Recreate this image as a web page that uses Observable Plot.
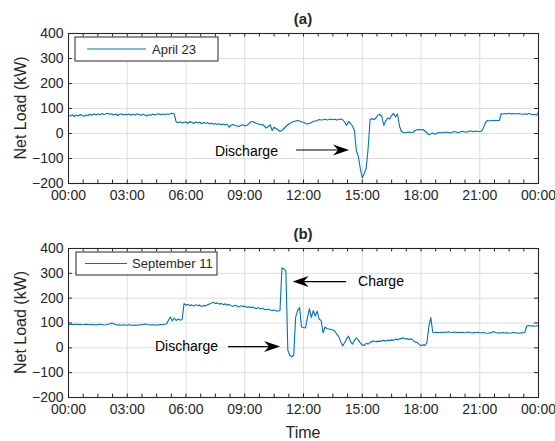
<!DOCTYPE html>
<html><head><meta charset="utf-8">
<script src="https://cdn.jsdelivr.net/npm/d3@7"></script>
<script src="https://cdn.jsdelivr.net/npm/@observablehq/plot@0.6"></script>
<style>
body{margin:0;background:#fff;font-family:"Liberation Sans",Arial,sans-serif;}
#chart{width:555px;height:441px;overflow:hidden;}
#chart svg{display:block;}
</style></head><body><div id="chart"></div>
<script>
// Net load (kW) sampled every 0.1 h from 00:00 to 24:00
const stepHours = 0.1;
const aprilLoad = [
72,70,75,68,74,70,76,72,69,74,
71,77,73,79,74,78,75,80,76,78,
81,77,79,74,78,72,76,79,74,77,
75,78,73,77,74,79,76,72,77,74,
70,75,73,78,74,77,79,75,78,76,
78,76,79,81,78,46,43,47,42,45,
46,41,48,44,40,46,42,45,39,44,
41,43,38,42,37,40,36,39,35,38,
34,37,25,33,36,32,30,28,33,35,
30,32,38,46,48,44,40,38,35,36,
30,22,28,35,12,25,20,15,8,12,
20,28,35,40,45,48,50,52,50,46,
45,40,38,40,44,48,50,52,56,54,
55,57,54,56,58,55,57,54,56,58,
55,45,32,48,40,30,12,-70,-90,-140,
-178,-160,-140,-60,55,60,55,62,74,76,
68,32,50,62,58,72,80,66,78,30,
8,4,3,5,6,4,5,12,15,16,
15,16,10,3,-4,-2,2,-3,0,4,
2,5,3,6,4,2,5,8,6,3,
6,9,7,5,8,10,9,7,10,8,
8,10,25,45,52,50,52,53,51,52,
52,80,78,80,79,81,78,80,79,78,
80,78,77,79,76,80,78,75,77,73,
84];
const septemberLoad = [
96,94,95,93,96,94,95,93,94,95,
94,93,95,92,94,93,95,94,92,93,
95,96,100,97,94,92,93,91,93,92,
91,93,92,90,92,91,93,92,94,96,
94,93,92,94,91,93,92,94,93,95,
96,110,124,108,120,110,116,112,113,178,
172,175,170,173,168,174,170,172,166,171,
169,174,176,180,184,178,181,176,179,174,
177,172,175,170,166,172,168,164,170,166,
168,163,165,162,164,160,158,162,157,159,
155,153,156,152,150,152,149,148,150,322,
318,310,-10,-30,-36,-30,124,150,162,84,
82,80,120,158,122,150,128,148,115,110,
60,84,78,76,74,72,68,55,45,25,
8,20,35,47,25,15,30,40,32,20,
12,10,18,15,22,25,28,24,27,26,
28,30,27,31,29,32,30,35,33,36,
38,40,35,37,34,36,30,23,22,15,
8,12,10,20,85,122,63,62,63,61,
63,62,64,62,65,63,62,64,62,63,
62,63,61,62,64,62,60,62,61,63,
60,61,62,60,59,61,60,66,62,60,
61,60,62,60,61,59,60,62,61,60,
59,61,60,62,88,90,88,89,87,88,
90];

const tickHours = [0,3,6,9,12,15,18,21,24];
const tickLabels = ["00:00","03:00","06:00","09:00","12:00","15:00","18:00","21:00","00:00"];
const yTicks = [-200,-100,0,100,200,300,400];
const minorTickHours = d3.range(0, 24.001, 0.75);

const titles = ["(a)", "(b)"];
const legendLabels = ["April 23", "September 11"];
// annotations: text, text anchor hour, tail hour, tip hour, value (kW)
const annotationsA = [
  {text:"Discharge", side:"left", tx:10.72, ty:-72, x1:11.64, x2:14.35, y:-68}
];
const annotationsB = [
  {text:"Charge", side:"right", tx:14.81, ty:267, x1:14.2, x2:11.47, y:265},
  {text:"Discharge", side:"left", tx:7.66, ty:7, x1:8.17, x2:10.83, y:3}
];

const blue = "#0072BD";
const dark = "#262626";
const gridColor = "#dedede";
const FONT = "Liberation Sans, Arial, Helvetica, sans-serif";

function toRows(values){ return values.map((v,i)=>({t:i*stepHours, v})); }

function makePanel(opts){
  const chart = Plot.plot({
    width:555, height:opts.height,
    marginTop:33, marginBottom:opts.marginBottom, marginLeft:68, marginRight:17,
    style:{fontFamily:FONT, fontSize:"14px", color:dark, background:"#fff", overflow:"visible"},
    x:{domain:[0,24]},
    y:{domain:[-200,400]},
    marks:[
      Plot.gridX(tickHours, {stroke:gridColor, strokeOpacity:1}),
      Plot.gridY(yTicks, {stroke:gridColor, strokeOpacity:1}),
      Plot.line(toRows(opts.values), {x:"t", y:"v", stroke:blue, strokeWidth:1.1}),
      Plot.ruleX(minorTickHours, {y1:-200, y2:-186, stroke:dark}),
      Plot.ruleX(minorTickHours, {y1:400, y2:386, stroke:dark}),
      Plot.ruleY(yTicks, {x1:0, x2:0.2, stroke:dark}),
      Plot.ruleY(yTicks, {x1:24, x2:23.8, stroke:dark}),
      Plot.frame({stroke:dark, strokeWidth:1.1}),
      Plot.axisX(tickHours, {tickSize:0, tickPadding:7, label:null, fontSize:14,
        tickFormat:d=>tickLabels[tickHours.indexOf(d)]}),
      Plot.axisY(yTicks, {tickSize:0, tickPadding:5, label:null, fontSize:14})
    ]
  });
  const svg = d3.select(chart);
  const sx = chart.scale("x"), sy = chart.scale("y");
  const X = h => sx.apply(h), Y = v => sy.apply(v);
  const cx = (X(0)+X(24))/2, cy = (Y(400)+Y(-200))/2;
  const g = svg.append("g").attr("font-family", FONT).attr("fill", dark).attr("text-anchor","start");
  // title
  g.append("text").attr("x", cx).attr("y", 18).attr("text-anchor","middle")
    .attr("dominant-baseline","central").attr("font-weight","bold").attr("font-size",15).text(opts.title);
  // y label
  g.append("text").attr("transform", `translate(20,${cy}) rotate(-90)`).attr("text-anchor","middle")
    .attr("dominant-baseline","central").attr("font-size",16).text("Net Load (kW)");
  if (opts.xLabel) {
    g.append("text").attr("x", cx).attr("y", opts.height-9).attr("text-anchor","middle")
      .attr("dominant-baseline","central").attr("font-size",16).text(opts.xLabel);
  }
  // legend
  const lb = opts.legendBox;
  g.append("rect").attr("x", lb.x).attr("y", lb.y).attr("width", lb.w).attr("height", lb.h)
    .attr("fill","#fff").attr("stroke", dark).attr("stroke-width",1);
  g.append("line").attr("x1", lb.l1).attr("x2", lb.l2).attr("y1", lb.y+lb.h/2).attr("y2", lb.y+lb.h/2)
    .attr("stroke", blue).attr("stroke-width",1.1);
  g.append("text").attr("x", lb.tx).attr("y", lb.y+lb.h/2).attr("dominant-baseline","central")
    .attr("text-anchor","start").attr("font-size",13).text(opts.legend);
  // annotations
  for (const a of opts.annotations) {
    g.append("text").attr("x", X(a.tx)).attr("y", Y(a.ty))
      .attr("text-anchor", a.side === "left" ? "end" : "start")
      .attr("dominant-baseline","central").attr("font-size",14).attr("fill","#000").text(a.text);
    const x1 = X(a.x1), x2 = X(a.x2), y = Y(a.y);
    const dir = Math.sign(x2 - x1);
    g.append("line").attr("x1", x1).attr("x2", x2 - dir*11).attr("y1", y).attr("y2", y)
      .attr("stroke","#000").attr("stroke-width",1.2);
    g.append("path").attr("d", `M${x2},${y} L${x2-dir*16},${y-5.5} L${x2-dir*11},${y} L${x2-dir*16},${y+5.5} Z`)
      .attr("fill","#000");
  }
  return chart;
}

const root = document.getElementById("chart");
root.appendChild(makePanel({
  values: aprilLoad, height:215, marginBottom:32, title:titles[0], legend:legendLabels[0],
  legendBox:{x:75, y:37, w:143, h:24, l1:87, l2:146, tx:152},
  annotations: annotationsA
}));
root.appendChild(makePanel({
  values: septemberLoad, height:226, marginBottom:44, title:titles[1], legend:legendLabels[1],
  legendBox:{x:76, y:37, w:141, h:23, l1:85, l2:127, tx:132},
  annotations: annotationsB, xLabel:"Time"
}));
</script></body></html>
